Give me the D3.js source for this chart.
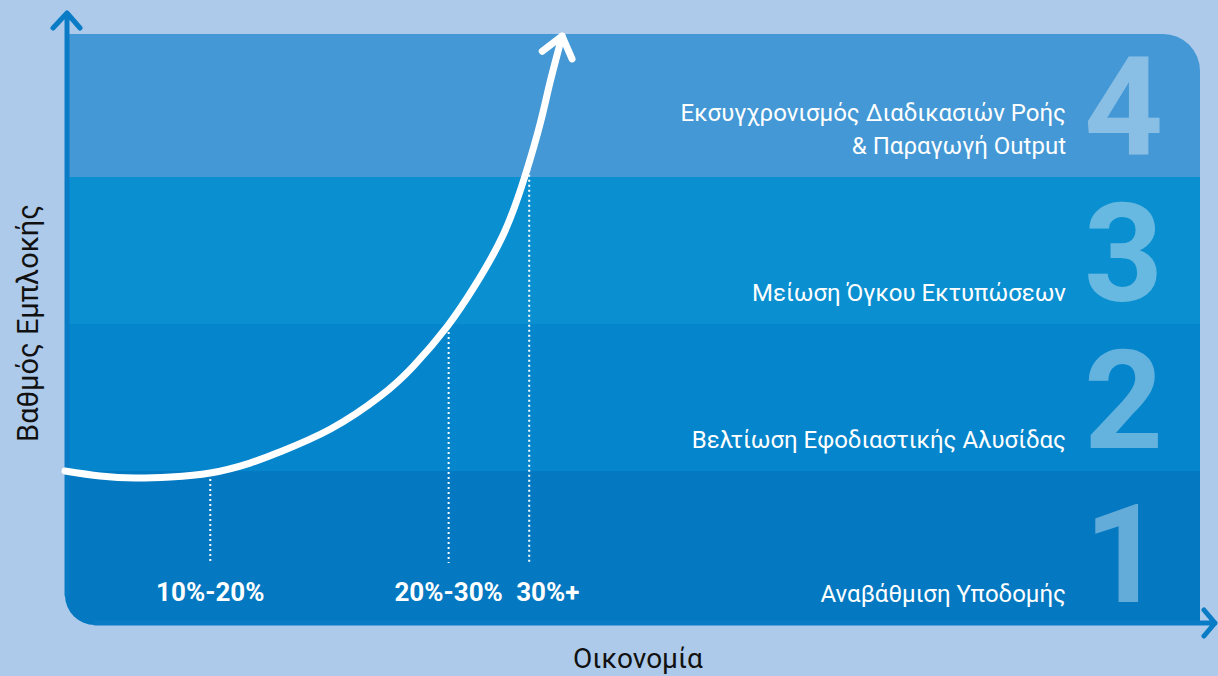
<!DOCTYPE html>
<html>
<head>
<meta charset="utf-8">
<script src="https://cdn.jsdelivr.net/npm/d3@7"></script>
<style>
  html, body { margin: 0; padding: 0; background: #adcaea; }
  svg { display: block; font-family: Roboto, "Noto Sans", sans-serif; }
</style>
</head>
<body>
<div id="chart"></div>
<script>
// levels of involvement (bands), bottom to top
var levels = [1, 2, 3, 4];
var levelLabels = [
  ["Αναβάθμιση Υποδομής"],
  ["Βελτίωση Εφοδιαστικής Αλυσίδας"],
  ["Μείωση Όγκου Εκτυπώσεων"],
  ["Εκσυγχρονισμός Διαδικασιών Ροής", "& Παραγωγή Output"]
];

// growth curve: economy (0-100) vs level (0-4)
var curveX = [0, 3.1, 6.2, 9.3, 12.8, 16.3, 18.9, 23.4, 27.8, 30.7, 33.7, 36.1, 38.6, 40.5, 41.9, 42.7, 43.8];
var curveY = [1.0, 0.966, 0.952, 0.959, 0.986, 1.054, 1.129, 1.286, 1.51, 1.714, 1.986, 2.259, 2.605, 3.0, 3.374, 3.633, 3.959];

// economy markers
var markerX = [12.8, 33.8, 40.9];
var markerTop = [0.98, 1.98, 3.05];
var markerLabels = ["10%-20%", "20%-30%", "30%+"];

var yTitle = "Βαθμός Εμπλοκής";
var xTitle = "Οικονομία";

var bandColors = ["#0479c2", "#0585cb", "#0a8fd0", "#4398d5"];
var axisColor = "#0a7cc5";

var width = 1218, height = 676;
var panel = {left: 65, top: 34, right: 1200, bottom: 625, rTop: 37, rBottom: 30};

var x = d3.scaleLinear().domain([0, 100]).range([65, 1200]);
var y = d3.scaleLinear().domain([0, 4]).range([618, 30]);

var svg = d3.select('#chart').append('svg')
    .attr('width', width)
    .attr('height', height);

// panel shape: rounded top-right and bottom-left
var p = d3.path();
p.moveTo(panel.left, panel.top);
p.lineTo(panel.right - panel.rTop, panel.top);
p.arcTo(panel.right, panel.top, panel.right, panel.top + panel.rTop, panel.rTop);
p.lineTo(panel.right, panel.bottom);
p.lineTo(panel.left + panel.rBottom, panel.bottom);
p.arcTo(panel.left, panel.bottom, panel.left, panel.bottom - panel.rBottom, panel.rBottom);
p.closePath();

svg.append('clipPath').attr('id', 'panelClip')
  .append('path').attr('d', p.toString());

var bands = svg.append('g').attr('clip-path', 'url(#panelClip)');

bands.selectAll('rect')
    .data(levels)
    .enter().append('rect')
    .attr('x', panel.left)
    .attr('width', panel.right - panel.left)
    .attr('y', function(d) { return d === 4 ? 0 : y(d); })
    .attr('height', function(d) {
        var top = d === 4 ? 0 : y(d);
        var bottom = d === 1 ? height : y(d - 1);
        return bottom - top;
    })
    .attr('fill', function(d, i) { return bandColors[i]; });

// axes
svg.append('path')
    .attr('d', 'M67,' + (panel.bottom - panel.rBottom) + 'V13 M53,28 L67,13 L80,28')
    .attr('fill', 'none')
    .attr('stroke', axisColor)
    .attr('stroke-width', 5)
    .attr('stroke-linecap', 'round')
    .attr('stroke-linejoin', 'round');

svg.append('path')
    .attr('d', 'M' + (panel.left + panel.rBottom) + ',623 H1215 M1204,610 L1215,623 L1204,636')
    .attr('fill', 'none')
    .attr('stroke', axisColor)
    .attr('stroke-width', 5)
    .attr('stroke-linecap', 'round')
    .attr('stroke-linejoin', 'round');

// big level numbers
svg.selectAll('.num')
    .data(levels)
    .enter().append('text')
    .attr('class', 'num')
    .attr('x', 1084)
    .attr('y', function(d) { return (d === 1 ? panel.bottom : y(d - 1)) - 23; })
    .attr('fill', '#fff')
    .attr('fill-opacity', 0.38)
    .attr('font-size', '138px')
    .attr('font-weight', 700)
    .text(function(d) { return d; });

// band labels
var lab = svg.selectAll('.lab')
    .data(levels)
    .enter().append('text')
    .attr('class', 'lab')
    .attr('text-anchor', 'end')
    .attr('fill', '#fff')
    .attr('font-size', '24px');

lab.selectAll('tspan')
    .data(function(d, i) {
        var lines = levelLabels[i];
        var base = (d === 1 ? panel.bottom : y(d - 1)) - 23;
        return lines.map(function(t, j) { return {t: t, y: base - (lines.length - 1 - j) * 33}; });
    })
    .enter().append('tspan')
    .attr('x', 1066)
    .attr('y', function(d) { return d.y; })
    .text(function(d) { return d.t; });

// dotted marker lines
svg.selectAll('.marker')
    .data(markerX)
    .enter().append('line')
    .attr('class', 'marker')
    .attr('x1', function(d) { return x(d); })
    .attr('x2', function(d) { return x(d); })
    .attr('y1', function(d, i) { return y(markerTop[i]); })
    .attr('y2', 563)
    .attr('stroke', '#fff')
    .attr('stroke-width', 2)
    .attr('stroke-dasharray', '2,3');

svg.selectAll('.mlab')
    .data(markerLabels)
    .enter().append('text')
    .attr('class', 'mlab')
    .attr('x', function(d, i) { return x(markerX[i]) + (i === 2 ? -13 : 0); })
    .attr('y', 601)
    .attr('text-anchor', function(d, i) { return i === 2 ? 'start' : 'middle'; })
    .attr('fill', '#fff')
    .attr('font-size', '26px')
    .attr('font-weight', 700)
    .text(function(d) { return d; });

// growth curve with arrow
var pts = curveX.map(function(d, i) { return [x(d), y(curveY[i])]; });
var line = d3.line().curve(d3.curveNatural);

svg.append('path')
    .attr('d', line(pts))
    .attr('fill', 'none')
    .attr('stroke', '#fff')
    .attr('stroke-width', 7)
    .attr('stroke-linecap', 'round');

var tip = pts[pts.length - 1], prev = pts[pts.length - 2];
var ang = Math.atan2(prev[1] - tip[1], prev[0] - tip[0]);
var wing = 25, spread = 38 * Math.PI / 180;
var w1 = [tip[0] + wing * Math.cos(ang - spread), tip[1] + wing * Math.sin(ang - spread)];
var w2 = [tip[0] + wing * Math.cos(ang + spread), tip[1] + wing * Math.sin(ang + spread)];

svg.append('path')
    .attr('d', 'M' + w1 + 'L' + tip + 'L' + w2)
    .attr('fill', 'none')
    .attr('stroke', '#fff')
    .attr('stroke-width', 7)
    .attr('stroke-linecap', 'round')
    .attr('stroke-linejoin', 'round');

// axis titles
svg.append('text')
    .attr('transform', 'translate(38,323) rotate(-90)')
    .attr('text-anchor', 'middle')
    .attr('fill', '#111')
    .attr('font-size', '29px')
    .text(yTitle);

svg.append('text')
    .attr('x', 638)
    .attr('y', 668)
    .attr('text-anchor', 'middle')
    .attr('fill', '#111')
    .attr('font-size', '28px')
    .text(xTitle);
</script>
</body>
</html>
